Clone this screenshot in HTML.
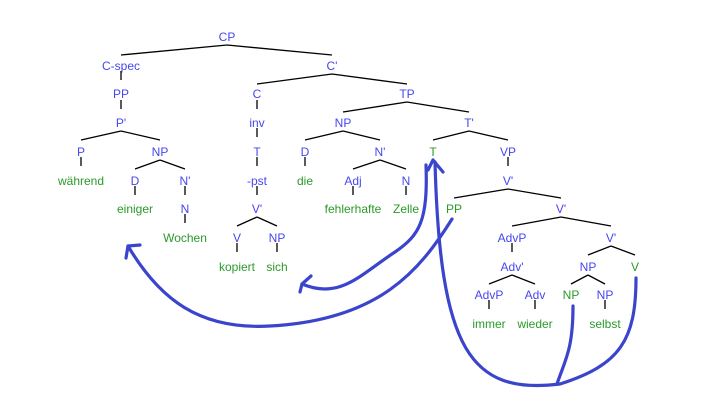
<!DOCTYPE html>
<html><head><meta charset="utf-8"><style>
html,body{margin:0;padding:0;background:#fff;width:720px;height:412px;overflow:hidden}
svg text{font-family:"Liberation Sans",Arial,sans-serif;font-size:12px;text-anchor:middle}
.b{fill:#4646f0}.g{fill:#2a9a2a}
</style></head><body>
<svg width="720" height="412" viewBox="0 0 720 412" xmlns="http://www.w3.org/2000/svg">
<g stroke="#000" stroke-width="1.3" fill="none">
<path d="M227,45 L121,55 M227,45 L332,55"/>
<path d="M332,74 L257,84 M332,74 L407,84"/>
<path d="M121,71 V80 M121,100 V109"/>
<path d="M121,131 L81,140 M121,131 L160,140"/>
<path d="M160,160 L135,169 M160,160 L185,169"/>
<path d="M81,157 V166 M135,186 V195 M185,186 V195 M185,214 V223"/>
<path d="M257,100 V109 M257,128 V137 M257,157 V166 M257,186 V195"/>
<path d="M257,217 L237,226 M257,217 L277,226"/>
<path d="M237,243 V252 M277,243 V252"/>
<path d="M407,102 L343,112 M407,102 L469,112"/>
<path d="M343,131 L305,140 M343,131 L380,140"/>
<path d="M469,131 L433,140 M469,131 L508,140"/>
<path d="M305,157 V166 M353,186 V195 M406,186 V195"/>
<path d="M380,160 L353,169 M380,160 L406,169"/>
<path d="M508,157 V166"/>
<path d="M508,189 L454,198 M508,189 L561,198"/>
<path d="M561,217 L512,226 M561,217 L611,226"/>
<path d="M512,243 V252"/>
<path d="M611,246 L588,255 M611,246 L635,255"/>
<path d="M512,275 L489,284 M512,275 L535,284"/>
<path d="M588,275 L571,284 M588,275 L605,284"/>
<path d="M489,300 V309 M535,300 V309 M605,300 V309"/>
</g>
<text class="b" x="227" y="41">CP</text>
<text class="b" x="121" y="70">C-spec</text><text class="b" x="332" y="70">C'</text>
<text class="b" x="121" y="98">PP</text><text class="b" x="257" y="98">C</text><text class="b" x="407" y="98">TP</text>
<text class="b" x="121" y="127">P'</text><text class="b" x="257" y="127">inv</text><text class="b" x="343" y="127">NP</text><text class="b" x="469" y="127">T'</text>
<text class="b" x="81" y="156">P</text><text class="b" x="160" y="156">NP</text><text class="b" x="257" y="156">T</text><text class="b" x="305" y="156">D</text><text class="b" x="380" y="156">N'</text><text class="g" x="433" y="156">T</text><text class="b" x="508" y="156">VP</text>
<text class="g" x="81" y="185">während</text><text class="b" x="135" y="185">D</text><text class="b" x="185" y="185">N'</text><text class="b" x="257" y="185">-pst</text><text class="g" x="305" y="185">die</text><text class="b" x="353" y="185">Adj</text><text class="b" x="406" y="185">N</text><text class="b" x="508" y="185">V'</text>
<text class="g" x="135" y="213">einiger</text><text class="b" x="185" y="213">N</text><text class="b" x="257" y="213">V'</text><text class="g" x="353" y="213">fehlerhafte</text><text class="g" x="406" y="213">Zelle</text><text class="g" x="454" y="213">PP</text><text class="b" x="561" y="213">V'</text>
<text class="g" x="185" y="242">Wochen</text><text class="b" x="237" y="242">V</text><text class="b" x="277" y="242">NP</text><text class="b" x="512" y="242">AdvP</text><text class="b" x="611" y="242">V'</text>
<text class="g" x="237" y="271">kopiert</text><text class="g" x="277" y="271">sich</text><text class="b" x="512" y="271">Adv'</text><text class="b" x="588" y="271">NP</text><text class="g" x="635" y="271">V</text>
<text class="b" x="489" y="299">AdvP</text><text class="b" x="535" y="299">Adv</text><text class="g" x="571" y="299">NP</text><text class="b" x="605" y="299">NP</text>
<text class="g" x="489" y="328">immer</text><text class="g" x="535" y="328">wieder</text><text class="g" x="605" y="328">selbst</text>
<g stroke="#3a44cc" stroke-width="3.2" fill="none" stroke-linecap="round" stroke-linejoin="round">
<path d="M452,219 C 420,270 380,320 270,326 C 200,330 160,300 128,246"/>
<path d="M128,246 L126,258 M128,246 L140,245"/>
<path d="M426,165 C 428,220 420,235 395,252 C 360,275 340,300 302,284"/>
<path d="M302,284 L300,292 M302,284 L311,276"/>
<path d="M636,278 C 636,340 620,365 560,384 C 470,395 440,350 435,162"/>
<path d="M573,306 C 573,350 565,360 557,384"/>
<path d="M433,160 L428,170 M433,160 L443,172"/>
</g>
</svg>
</body></html>
